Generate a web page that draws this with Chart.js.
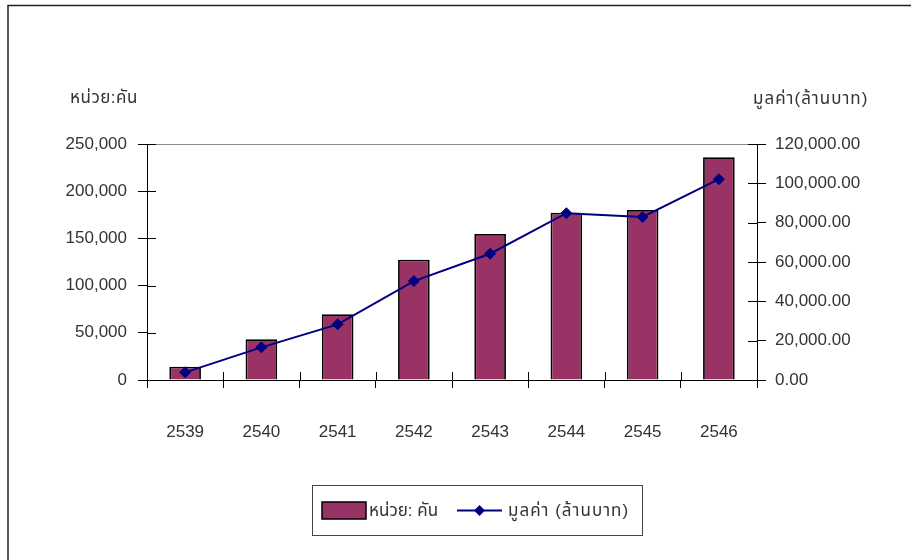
<!DOCTYPE html>
<html>
<head>
<meta charset="utf-8">
<script src="https://cdn.jsdelivr.net/npm/chart.js@4.4.1/dist/chart.umd.min.js"></script>
<style>
  html, body { margin: 0; padding: 0; background: #fff; }
  #wrap { width: 920px; height: 560px; position: relative; }
</style>
</head>
<body>
<div id="wrap"><canvas id="myChart"></canvas></div>
<script>
"use strict";

// years (Buddhist era)
const years = ['2539', '2540', '2541', '2542', '2543', '2544', '2545', '2546'];

// number of vehicles - bars, left axis
const units = [14100, 43100, 69600, 127400, 154700, 177200, 180100, 235900];

// value in million baht - line, right axis
const values = [3900, 16600, 28300, 50300, 64200, 84800, 82900, 102100];

// axis ranges / steps
const unitMax = 250000;
const unitStep = 50000;
const valueMax = 120000;
const valueStep = 20000;

// texts
const unitLabel = 'หน่วย: คัน';
const valueLabel = 'มูลค่า (ล้านบาท)';
const leftTitle = 'หน่วย:คัน';
const rightTitle = 'มูลค่า(ล้านบาท)';

const FONT = "'Liberation Sans', Arial, 'Noto Sans Thai', Tahoma, sans-serif";
const TEXT = '#333';
const BAR_COLOR = '#993366';
const LINE_COLOR = '#000080';

// excel style extras: frame, crossing ticks, titles and legend box
const decorations = {
    id: 'decorations',
    afterDraw(chart) {
        const ctx = chart.ctx;
        const area = chart.chartArea;
        const sx = chart.scales.x, sy = chart.scales.y, sy1 = chart.scales.y1;

        ctx.save();

        // outer frame (left and top edges)
        ctx.strokeStyle = '#222';
        ctx.lineWidth = 1.5;
        ctx.beginPath();
        ctx.moveTo(8, 560);
        ctx.lineTo(8, 5.5);
        ctx.lineTo(911, 5.5);
        ctx.stroke();

        // top edge of plot area
        ctx.strokeStyle = '#8c8c8c';
        ctx.lineWidth = 1;
        ctx.beginPath();
        ctx.moveTo(area.left, Math.round(area.top) + 0.5);
        ctx.lineTo(area.right, Math.round(area.top) + 0.5);
        ctx.stroke();

        // inner half of the tick marks
        ctx.strokeStyle = '#000';
        ctx.beginPath();
        sy.ticks.forEach((t, i) => {
            const y = Math.round(sy.getPixelForTick(i)) + 0.5;
            ctx.moveTo(area.left, y);
            ctx.lineTo(area.left + 9, y);
        });
        sy1.ticks.forEach((t, i) => {
            const y = Math.round(sy1.getPixelForTick(i)) + 0.5;
            ctx.moveTo(area.right, y);
            ctx.lineTo(area.right - 9, y);
        });
        for (let i = 0; i < years.length - 1; i++) {
            const x = Math.round((sx.getPixelForValue(i) + sx.getPixelForValue(i + 1)) / 2) + 0.5;
            ctx.moveTo(x, area.bottom);
            ctx.lineTo(x, area.bottom - 8);
        }
        ctx.stroke();

        // axis titles
        ctx.fillStyle = TEXT;
        ctx.font = '17px ' + FONT;
        ctx.textBaseline = 'middle';
        ctx.textAlign = 'left';
        ctx.letterSpacing = '0.5px';
        ctx.fillText(leftTitle, 70, 98);
        ctx.letterSpacing = '1px';
        ctx.fillText(rightTitle, 753, 99);
        ctx.letterSpacing = '0px';

        // legend
        const bar = chart.data.datasets[1];
        const line = chart.data.datasets[0];
        ctx.strokeStyle = '#444';
        ctx.lineWidth = 1;
        ctx.strokeRect(312.5, 485.5, 330, 50);

        ctx.fillStyle = bar.backgroundColor;
        ctx.fillRect(322, 502, 44, 17);
        ctx.strokeStyle = bar.borderColor;
        ctx.lineWidth = 1.5;
        ctx.strokeRect(322, 502, 44, 17);

        ctx.strokeStyle = line.borderColor;
        ctx.lineWidth = 2;
        ctx.beginPath();
        ctx.moveTo(457, 510.5);
        ctx.lineTo(502, 510.5);
        ctx.stroke();
        ctx.fillStyle = line.pointBackgroundColor;
        ctx.beginPath();
        ctx.moveTo(479.5, 505);
        ctx.lineTo(485, 510.5);
        ctx.lineTo(479.5, 516);
        ctx.lineTo(474, 510.5);
        ctx.closePath();
        ctx.fill();

        ctx.fillStyle = TEXT;
        ctx.fillText(bar.label, 369, 511);
        ctx.letterSpacing = '1px';
        ctx.fillText(line.label, 508, 511);

        ctx.restore();
    }
};

const data = {
    labels: years,
    datasets: [{
        type: 'line',
        label: valueLabel,
        data: values,
        yAxisID: 'y1',
        borderColor: LINE_COLOR,
        borderWidth: 2,
        pointStyle: 'rectRot',
        pointRadius: 5.5,
        pointBackgroundColor: LINE_COLOR,
        pointBorderColor: LINE_COLOR,
        pointBorderWidth: 1,
        tension: 0,
        order: 0
    }, {
        type: 'bar',
        label: unitLabel,
        data: units,
        yAxisID: 'y',
        backgroundColor: BAR_COLOR,
        borderColor: '#000',
        borderWidth: 1.8,
        barPercentage: 0.415,
        categoryPercentage: 1,
        order: 1
    }]
};

const tickFont = { family: FONT, size: 17 };

const config = {
    data,
    options: {
        responsive: true,
        maintainAspectRatio: false,
        animation: false,
        layout: { padding: { top: 144, left: 0, right: 0, bottom: 0 } },
        scales: {
            x: {
                type: 'category',
                grid: { offset: true, drawOnChartArea: false, drawTicks: true, tickLength: 8, color: '#000' },
                border: { display: true, color: '#000', width: 1 },
                ticks: { color: TEXT, font: tickFont, padding: 34, maxRotation: 0 },
                afterFit(scale) { scale.height = 180; }
            },
            y: {
                position: 'left',
                min: 0,
                max: unitMax,
                grid: { drawOnChartArea: false, drawTicks: true, tickLength: 9, color: '#000' },
                border: { display: true, color: '#000', width: 1 },
                ticks: {
                    stepSize: unitStep,
                    color: TEXT,
                    font: tickFont,
                    padding: 11,
                    callback: v => v.toLocaleString('en-US')
                },
                afterFit(scale) { scale.width = 147; }
            },
            y1: {
                position: 'right',
                min: 0,
                max: valueMax,
                grid: { drawOnChartArea: false, drawTicks: true, tickLength: 9, color: '#000' },
                border: { display: true, color: '#000', width: 1 },
                ticks: {
                    stepSize: valueStep,
                    color: TEXT,
                    font: tickFont,
                    padding: 9,
                    callback: v => v.toLocaleString('en-US', { minimumFractionDigits: 2, maximumFractionDigits: 2 })
                },
                afterFit(scale) { scale.width = 163; }
            }
        },
        plugins: {
            legend: { display: false },
            tooltip: { enabled: false }
        }
    },
    plugins: [decorations]
};

const myChart = new Chart(document.getElementById('myChart'), config);
</script>
</body>
</html>
